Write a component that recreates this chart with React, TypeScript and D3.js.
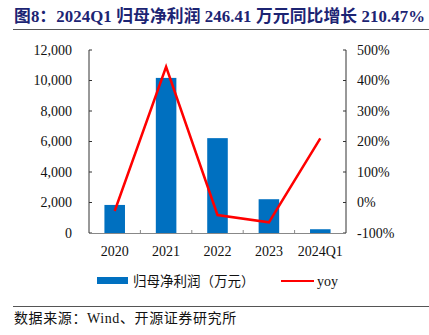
import React from "react";
import * as d3 from "d3";

const categories = ["2020", "2021", "2022", "2023", "2024Q1"];
const profitValues = [1840, 10170, 6220, 2215, 246.41];
const yoyValues = [-28, 445, -41, -65, 210.47];
const leftTicks = [0, 2000, 4000, 6000, 8000, 10000, 12000];
const rightTicks = [-100, 0, 100, 200, 300, 400, 500];
const titleText = "图8：2024Q1 归母净利润 246.41 万元同比增长 210.47%";
const sourceText = "数据来源：Wind、开源证券研究所";
const legendBar = "归母净利润（万元）";
const legendLine = "yoy";

const W = 429;
const H = 335;
const serif = "'Liberation Serif', 'Noto Sans CJK SC', serif";
const cjk = "'Liberation Serif', 'Noto Sans CJK SC', serif";

export default function App() {
  const left = 89;
  const right = 346;
  const top = 50;
  const bottom = 233;
  const x = d3.scaleBand<string>().domain(categories).range([left, right]).paddingInner(0.6).paddingOuter(0.3);
  const yL = d3.scaleLinear().domain([0, 12000]).range([bottom, top]);
  const yR = d3.scaleLinear().domain([-100, 500]).range([bottom, top]);
  const fmt = d3.format(",");
  const line = d3
    .line<number>()
    .x((_, i) => (x(categories[i]) as number) + x.bandwidth() / 2)
    .y((d) => yR(d));
  const step = x.step();
  const boundaries = categories.slice(1).map((c) => (x(c) as number) - (step - x.bandwidth()) / 2);

  return (
    <svg width={W} height={H} style={{ position: "absolute", left: 0, top: 0, background: "#fff" }}>
      <text x={14} y={22} fontFamily={cjk} fontWeight="bold" fontSize={16.8} letterSpacing={0.1} fill="#1c2473">
        {titleText}
      </text>
      <line x1={13} x2={429} y1={29.5} y2={29.5} stroke="#555" strokeWidth={1} />

      {profitValues.map((v, i) => (
        <rect
          key={categories[i]}
          x={x(categories[i])}
          y={yL(v)}
          width={x.bandwidth()}
          height={bottom - yL(v)}
          fill="#0070C0"
        />
      ))}

      {/* left axis */}
      <line x1={left} x2={left} y1={top} y2={bottom} stroke="#333" strokeWidth={1} />
      {leftTicks.map((t) => (
        <g key={"l" + t}>
          <line x1={left} x2={left + 3} y1={yL(t)} y2={yL(t)} stroke="#333" />
          <text x={72} y={yL(t)} dy="0.35em" textAnchor="end" fontFamily={serif} fontSize={14} fill="#111">
            {fmt(t)}
          </text>
        </g>
      ))}

      {/* right axis */}
      <line x1={right} x2={right} y1={top} y2={bottom} stroke="#333" strokeWidth={1} />
      {rightTicks.map((t) => (
        <g key={"r" + t}>
          <line x1={right - 3} x2={right} y1={yR(t)} y2={yR(t)} stroke="#333" />
          <text x={357} y={yR(t)} dy="0.35em" textAnchor="start" fontFamily={serif} fontSize={14} fill="#111">
            {t + "%"}
          </text>
        </g>
      ))}

      {/* x axis */}
      <line x1={left} x2={right} y1={bottom + 0.5} y2={bottom + 0.5} stroke="#888" strokeWidth={1} />
      {boundaries.map((b, i) => (
        <line key={"b" + i} x1={b} x2={b} y1={bottom} y2={bottom - 3} stroke="#888" />
      ))}
      {categories.map((c) => (
        <text
          key={"x" + c}
          x={(x(c) as number) + x.bandwidth() / 2}
          y={251}
          dy="0.35em"
          textAnchor="middle"
          fontFamily={serif}
          fontSize={14}
          fill="#111"
        >
          {c}
        </text>
      ))}

      <path d={line(yoyValues) || ""} fill="none" stroke="#FF0000" strokeWidth={2.5} strokeLinejoin="miter" />

      {/* legend */}
      <rect x={97} y={277} width={31} height={7} fill="#0070C0" />
      <text x={133} y={281} dy="0.35em" fontFamily={cjk} fontSize={13.5} fill="#111">
        {legendBar}
      </text>
      <line x1={281} x2={314} y1={281} y2={281} stroke="#FF0000" strokeWidth={2} />
      <text x={317} y={281} dy="0.35em" fontFamily={serif} fontSize={14} fill="#111">
        {legendLine}
      </text>

      <line x1={13} x2={429} y1={306.5} y2={306.5} stroke="#555" strokeWidth={1} />
      <text x={14} y={318} dy="0.35em" fontFamily={cjk} fontSize={14} letterSpacing={0.6} fill="#111">
        {sourceText}
      </text>
    </svg>
  );
}
